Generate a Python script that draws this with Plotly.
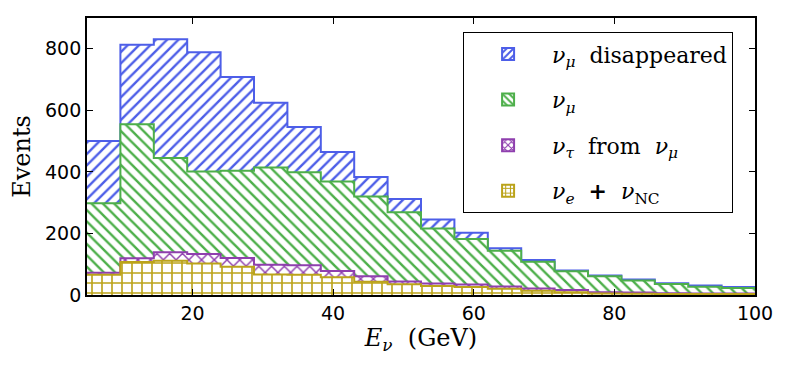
import plotly.graph_objects as go

bin_edges = [5 + 4.75 * i for i in range(21)]

numu_disappeared = [500, 813, 831, 789, 708, 625, 546, 465, 383, 312, 245, 202, 152, 114, 80, 63, 50, 38, 31, 26]
numu = [298, 555, 445, 401, 404, 414, 399, 369, 320, 269, 216, 182, 144, 108, 77, 61, 47, 36, 27, 23]
nutau_from_numu = [72, 119, 139, 133, 120, 98, 97, 78, 61, 44, 37, 34, 28, 21, 16, 9, 8, 6, 5, 5]
nue_plus_nc = [66, 107, 111, 102, 92, 67, 66, 58, 43, 35, 29, 26, 20, 14, 9, 5, 4, 3, 3, 3]

series_names = [
    "<i>ν</i><sub><i>μ</i></sub>  disappeared",
    "<i>ν</i><sub><i>μ</i></sub>",
    "<i>ν</i><sub><i>τ</i></sub>  from  <i>ν</i><sub><i>μ</i></sub>",
    "<i>ν</i><sub><i>e</i></sub>  <b>+</b>  <i>ν</i><sub>NC</sub>",
]
series_values = [numu_disappeared, numu, nutau_from_numu, nue_plus_nc]
series_colors = ["#4d5ee8", "#4daf4a", "#8f3fae", "#bba31a"]
series_patterns = ["/", "\\", "x", "+"]
pattern_sizes = [8, 8, 9, 10]

fig = go.Figure()
for i, (name, vals, col, pat, ps) in enumerate(zip(series_names, series_values, series_colors, series_patterns, pattern_sizes)):
    fig.add_trace(go.Scatter(
        x=bin_edges,
        y=vals + [vals[-1]],
        mode="lines",
        line=dict(shape="hv", color=col, width=2),
        fill="tozeroy",
        fillcolor="white",
        fillpattern=dict(shape=pat, fgcolor=col, bgcolor="white", size=ps,
                         solidity=0.3, fgopacity=1),
        name=name,
        legendgroup=f"g{i}",
        showlegend=False,
    ))
    # legend entry (no data drawn)
    fig.add_trace(go.Bar(
        x=[None], y=[None],
        marker=dict(color="white", line=dict(color=col, width=2),
                    pattern=dict(shape=pat, fgcolor=col, bgcolor="white", size=6,
                                 solidity=0.4, fgopacity=1)),
        name=name,
        legendgroup=f"g{i}",
        showlegend=True,
    ))

axis_common = dict(
    showline=True, linecolor="black", linewidth=1.8, mirror="ticks",
    ticks="inside", ticklen=6, tickcolor="black", tickwidth=1,
    showgrid=False, zeroline=False, automargin=False,
    tickfont=dict(family="DejaVu Sans", size=19, color="black"),
)

fig.update_layout(
    width=789, height=372,
    margin=dict(l=79, r=42, t=10, b=85),
    paper_bgcolor="white", plot_bgcolor="white",
    barmode="overlay",
    xaxis=dict(range=[5, 100], tickvals=[20, 40, 60, 80, 100],
               title=dict(text="<i>E</i><sub><i>ν</i></sub>  (GeV)",
                          font=dict(family="DejaVu Serif", size=24, color="black"),
                          standoff=5),
               **axis_common),
    yaxis=dict(range=[0, 900], tickvals=[0, 200, 400, 600, 800],
               title=dict(text="Events",
                          font=dict(family="DejaVu Serif", size=24, color="black"),
                          standoff=9),
               **axis_common),
    legend=dict(
        x=0.563, xanchor="left", y=0.949, yanchor="top",
        bordercolor="black", borderwidth=1, bgcolor="white",
        font=dict(family="DejaVu Serif", size=22, color="black"),
        tracegroupgap=14, itemwidth=78,
    ),
    showlegend=True,
)

fig.write_html("out.html")
